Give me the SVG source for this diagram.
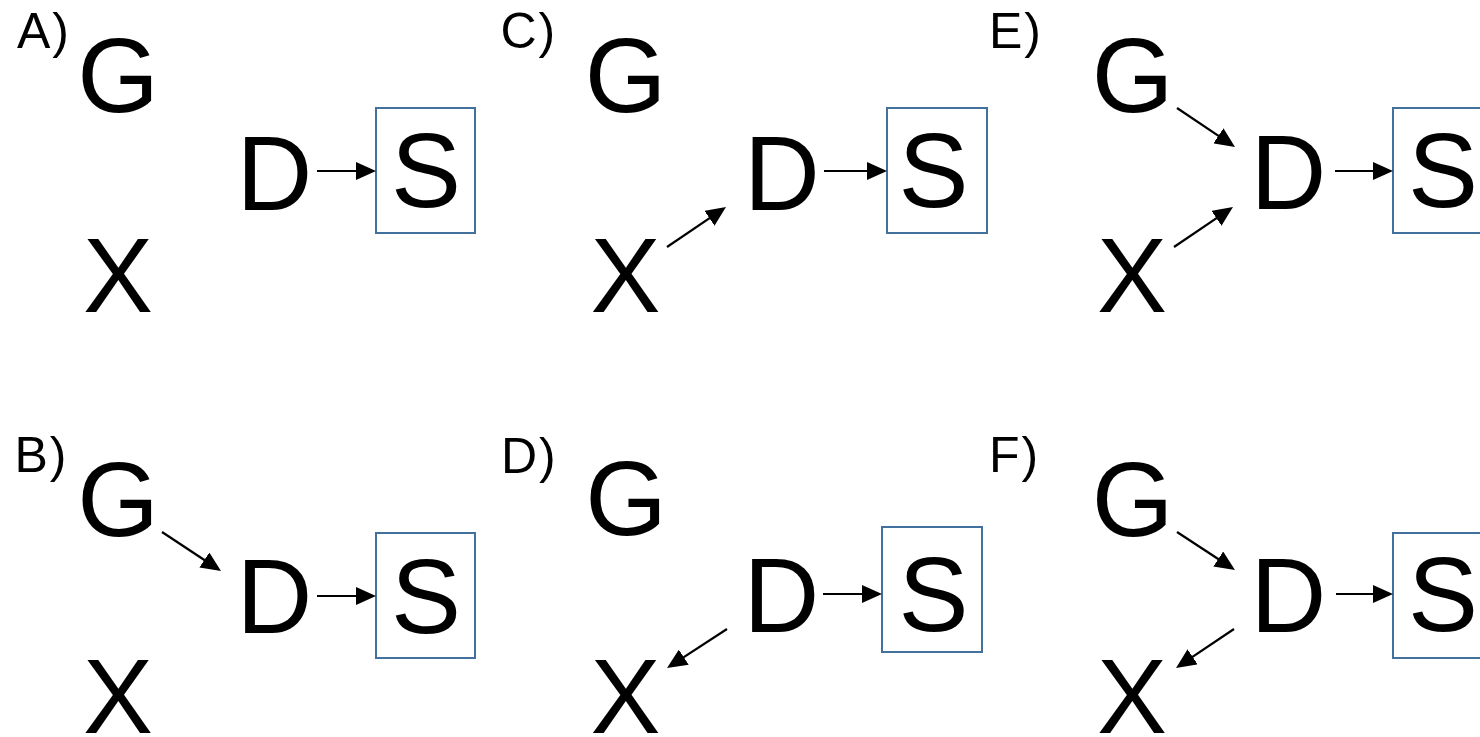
<svg xmlns="http://www.w3.org/2000/svg" width="1480" height="737" viewBox="0 0 1480 737">
<style>
.lbl{font-family:"Liberation Sans",Arial,sans-serif;font-size:50px;fill:#000;letter-spacing:2px}
.n{font-family:"Liberation Sans",Arial,sans-serif;font-size:105px;fill:#000;text-anchor:middle}
.box{fill:none;stroke:#41719C;stroke-width:2}
.e{stroke:#000;stroke-width:2.2;fill:none;marker-end:url(#ah)}
</style>
<defs>
<marker id="ah" viewBox="0 0 20 18" refX="10" refY="9" markerWidth="20" markerHeight="18" markerUnits="userSpaceOnUse" orient="auto">
<path d="M0,0 L20,9 L0,18 Z" fill="#000"/>
</marker>
</defs>
<rect width="1480" height="737" fill="#fff"/>
<g id="labels">
<text class="lbl" x="17" y="48">A)</text>
<text class="lbl" x="14.5" y="472">B)</text>
<text class="lbl" x="500.5" y="48">C)</text>
<text class="lbl" x="501" y="473">D)</text>
<text class="lbl" x="989" y="48">E)</text>
<text class="lbl" x="989" y="472">F)</text>
</g>
<g id="panelA">
<g id="A-G"><text class="n" x="118" y="112">G</text></g>
<g id="A-X"><text class="n" x="118" y="312">X</text></g>
<g id="A-D"><text class="n" x="274.5" y="210">D</text></g>
<g id="A-S"><rect class="box" x="376" y="108" width="99" height="125"/><text class="n" x="426" y="207">S</text></g>
</g>
<g id="panelB">
<g id="B-G"><text class="n" x="118" y="535.5">G</text></g>
<g id="B-X"><text class="n" x="118" y="733">X</text></g>
<g id="B-D"><text class="n" x="274.5" y="633">D</text></g>
<g id="B-S"><rect class="box" x="376" y="533" width="99" height="125"/><text class="n" x="426" y="633">S</text></g>
</g>
<g id="panelC">
<g id="C-G"><text class="n" x="625.5" y="112">G</text></g>
<g id="C-X"><text class="n" x="625.5" y="312">X</text></g>
<g id="C-D"><text class="n" x="782" y="210">D</text></g>
<g id="C-S"><rect class="box" x="887" y="108" width="100" height="125"/><text class="n" x="933.5" y="207">S</text></g>
</g>
<g id="panelD">
<g id="D-G"><text class="n" x="626" y="534.5">G</text></g>
<g id="D-X"><text class="n" x="625.5" y="733">X</text></g>
<g id="D-D"><text class="n" x="781.5" y="632">D</text></g>
<g id="D-S"><rect class="box" x="882" y="527" width="100" height="125"/><text class="n" x="933.5" y="631">S</text></g>
</g>
<g id="panelE">
<g id="E-G"><text class="n" x="1132.5" y="112">G</text></g>
<g id="E-X"><text class="n" x="1132" y="312">X</text></g>
<g id="E-D"><text class="n" x="1288.5" y="209">D</text></g>
<g id="E-S"><rect class="box" x="1393" y="108" width="100" height="125"/><text class="n" x="1443" y="207">S</text></g>
</g>
<g id="panelF">
<g id="F-G"><text class="n" x="1132.5" y="535.5">G</text></g>
<g id="F-X"><text class="n" x="1132" y="733">X</text></g>
<g id="F-D"><text class="n" x="1288.5" y="632">D</text></g>
<g id="F-S"><rect class="box" x="1393" y="533" width="100" height="125"/><text class="n" x="1443" y="631">S</text></g>
</g>
<g id="connectors">
<line class="e" x1="317" y1="171" x2="366" y2="171"/>
<line class="e" x1="162" y1="532" x2="212.7" y2="565.5"/>
<line class="e" x1="317" y1="596" x2="366" y2="596"/>
<line class="e" x1="667" y1="247" x2="717.7" y2="212.6"/>
<line class="e" x1="824" y1="171" x2="877" y2="171"/>
<line class="e" x1="727" y1="629" x2="675.4" y2="662.6"/>
<line class="e" x1="823" y1="594" x2="872" y2="594"/>
<line class="e" x1="1177" y1="108" x2="1226.7" y2="141.4"/>
<line class="e" x1="1174" y1="247" x2="1224.7" y2="212.6"/>
<line class="e" x1="1335" y1="171" x2="1383" y2="171"/>
<line class="e" x1="1177" y1="532" x2="1226.6" y2="564.5"/>
<line class="e" x1="1234" y1="629" x2="1184.3" y2="662.4"/>
<line class="e" x1="1336" y1="594" x2="1383" y2="594"/>
</g>
</svg>
